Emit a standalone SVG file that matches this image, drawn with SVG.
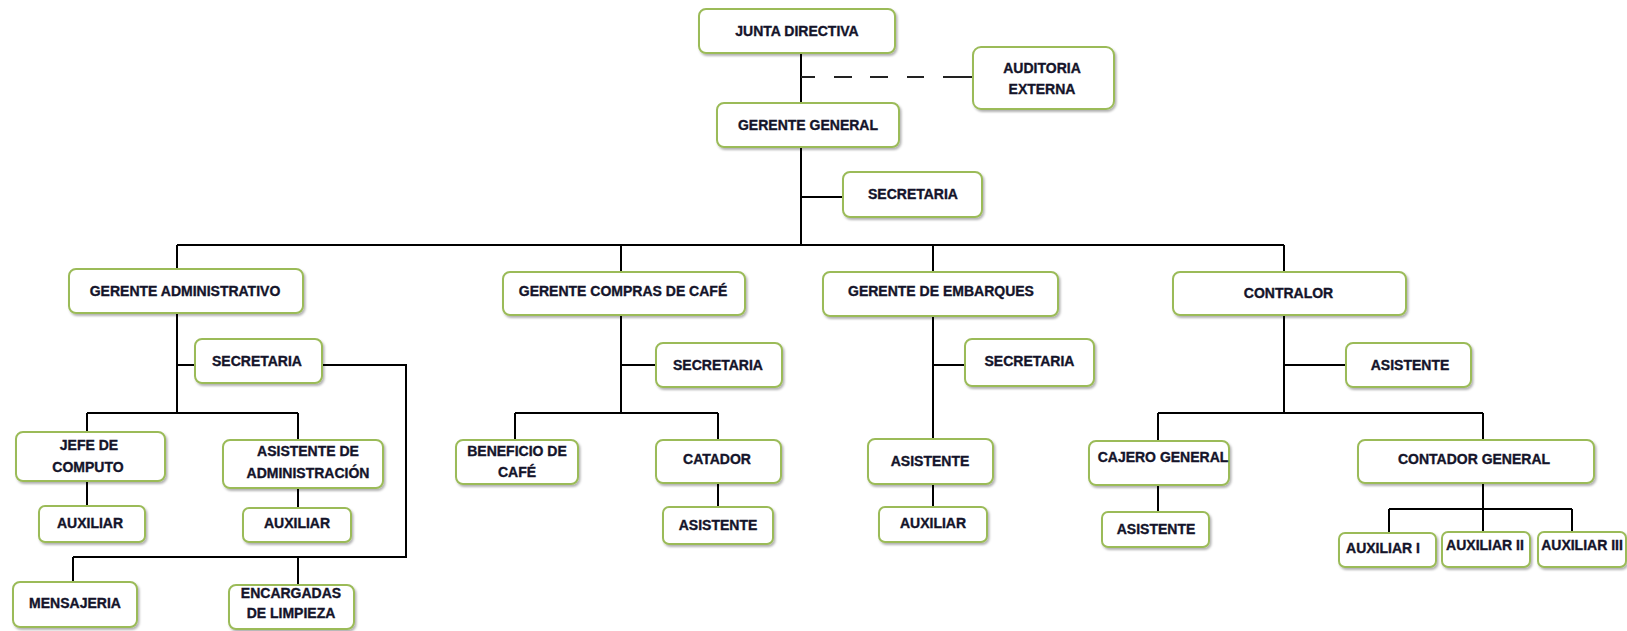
<svg xmlns="http://www.w3.org/2000/svg" width="1627" height="631" viewBox="0 0 1627 631">
<style>
.box{fill:#fff;stroke:#9bbb59;stroke-width:2;filter:url(#sh)}
.t{font-family:"Liberation Sans",Arial,sans-serif;font-weight:bold;font-size:14px;fill:#14142a;stroke:#14142a;stroke-width:0.35;text-anchor:middle}
.c{fill:none;stroke:#000;stroke-width:2}
.d{fill:none;stroke:#222;stroke-width:2;stroke-dasharray:14 19 18 18 18 19 17 19 40}
</style>
<defs>
<filter id="sh" x="-10%" y="-20%" width="125%" height="150%">
<feDropShadow dx="1.5" dy="2" stdDeviation="1.2" flood-color="#000" flood-opacity="0.3"/>
</filter>
</defs>
<rect width="1627" height="631" fill="#fff"/>
<g id="connectors">
<path class="c" d="M801 53V103M801 147V245M801 197H843"/>
<path class="d" d="M801 77H973"/>
<path class="c" d="M177 245H1284M177 245V269M621 245V272M933 245V272M1284 245V272"/>
<path class="c" d="M177 313V413M177 365H195M87 413H298M87 413V432M298 413V440M87 481V506M298 488V508M322 365H406V557H73M73 557V582M298 557V585"/>
<path class="c" d="M621 315V413M621 365H656M515 413H718M515 413V440M718 413V440M718 483V507"/>
<path class="c" d="M933 316V439M933 365H965M933 484V507"/>
<path class="c" d="M1284 315V413M1284 365H1346M1158 413H1483M1158 413V441M1483 413V440M1158 485V512M1483 483V509M1389 509H1572M1389 509V533M1483 509V532M1572 509V532"/>
</g>
<g id="junta"><rect class="box" x="699" y="9" width="196" height="44" rx="7"/><text class="t" x="797" y="36">JUNTA DIRECTIVA</text></g>
<g id="auditoria"><rect class="box" x="973" y="47" width="141" height="62" rx="8"/><text class="t" x="1042" y="72.5">AUDITORIA</text><text class="t" x="1042" y="94">EXTERNA</text></g>
<g id="gerente-general"><rect class="box" x="717" y="103" width="182" height="44" rx="7"/><text class="t" x="808" y="130">GERENTE GENERAL</text></g>
<g id="secretaria-gg"><rect class="box" x="843" y="172" width="139" height="45" rx="7"/><text class="t" x="913" y="198.5">SECRETARIA</text></g>
<g id="gerente-adm"><rect class="box" x="69" y="269" width="234" height="44" rx="7"/><text class="t" x="185" y="296">GERENTE ADMINISTRATIVO</text></g>
<g id="secretaria-adm"><rect class="box" x="195" y="339" width="127" height="44" rx="7"/><text class="t" x="257" y="366">SECRETARIA</text></g>
<g id="jefe-computo"><rect class="box" x="16" y="432" width="149" height="49" rx="7"/><text class="t" x="89" y="449.5">JEFE DE</text><text class="t" x="88" y="471.7">COMPUTO</text></g>
<g id="asistente-adm"><rect class="box" x="223" y="440" width="160" height="48" rx="7"/><text class="t" x="308" y="456">ASISTENTE DE</text><text class="t" x="308" y="478">ADMINISTRACIÓN</text></g>
<g id="auxiliar-computo"><rect class="box" x="39" y="506" width="106" height="36" rx="6"/><text class="t" x="90" y="527.5">AUXILIAR</text></g>
<g id="auxiliar-adm"><rect class="box" x="243" y="508" width="108" height="34" rx="6"/><text class="t" x="297" y="527.5">AUXILIAR</text></g>
<g id="mensajeria"><rect class="box" x="13" y="582" width="124" height="45" rx="7"/><text class="t" x="75" y="608">MENSAJERIA</text></g>
<g id="encargadas"><rect class="box" x="229" y="585" width="125" height="44" rx="7"/><text class="t" x="291" y="598">ENCARGADAS</text><text class="t" x="291" y="618">DE LIMPIEZA</text></g>
<g id="gerente-compras"><rect class="box" x="503" y="272" width="242" height="43" rx="7"/><text class="t" x="623" y="296">GERENTE COMPRAS DE CAFÉ</text></g>
<g id="secretaria-compras"><rect class="box" x="656" y="343" width="126" height="44" rx="7"/><text class="t" x="718" y="370">SECRETARIA</text></g>
<g id="beneficio"><rect class="box" x="456" y="440" width="122" height="44" rx="7"/><text class="t" x="517" y="456">BENEFICIO DE</text><text class="t" x="517" y="477">CAFÉ</text></g>
<g id="catador"><rect class="box" x="656" y="440" width="125" height="43" rx="7"/><text class="t" x="717" y="464">CATADOR</text></g>
<g id="asistente-catador"><rect class="box" x="663" y="507" width="110" height="37" rx="6"/><text class="t" x="718" y="530">ASISTENTE</text></g>
<g id="gerente-embarques"><rect class="box" x="823" y="272" width="235" height="44" rx="7"/><text class="t" x="941" y="296">GERENTE DE EMBARQUES</text></g>
<g id="secretaria-embarques"><rect class="box" x="965" y="339" width="129" height="47" rx="7"/><text class="t" x="1029.5" y="365.5">SECRETARIA</text></g>
<g id="asistente-embarques"><rect class="box" x="868" y="439" width="125" height="45" rx="7"/><text class="t" x="930" y="466">ASISTENTE</text></g>
<g id="auxiliar-embarques"><rect class="box" x="879" y="507" width="108" height="35" rx="6"/><text class="t" x="933" y="528">AUXILIAR</text></g>
<g id="contralor"><rect class="box" x="1173" y="272" width="233" height="43" rx="7"/><text class="t" x="1288.5" y="297.5">CONTRALOR</text></g>
<g id="asistente-contralor"><rect class="box" x="1346" y="343" width="125" height="44" rx="7"/><text class="t" x="1410" y="370">ASISTENTE</text></g>
<g id="cajero"><rect class="box" x="1089" y="441" width="140" height="44" rx="7"/><text class="t" x="1163" y="462">CAJERO GENERAL</text></g>
<g id="asistente-cajero"><rect class="box" x="1102" y="512" width="107" height="35" rx="6"/><text class="t" x="1156" y="534">ASISTENTE</text></g>
<g id="contador"><rect class="box" x="1358" y="440" width="236" height="43" rx="7"/><text class="t" x="1474" y="464">CONTADOR GENERAL</text></g>
<g id="auxiliar-1"><rect class="box" x="1339" y="533" width="97" height="34" rx="6"/><text class="t" x="1383" y="552.5">AUXILIAR I</text></g>
<g id="auxiliar-2"><rect class="box" x="1442" y="532" width="88" height="35" rx="6"/><text class="t" x="1485" y="550">AUXILIAR II</text></g>
<g id="auxiliar-3"><rect class="box" x="1538" y="532" width="88" height="35" rx="6"/><text class="t" x="1582" y="550">AUXILIAR III</text></g>
</svg>
